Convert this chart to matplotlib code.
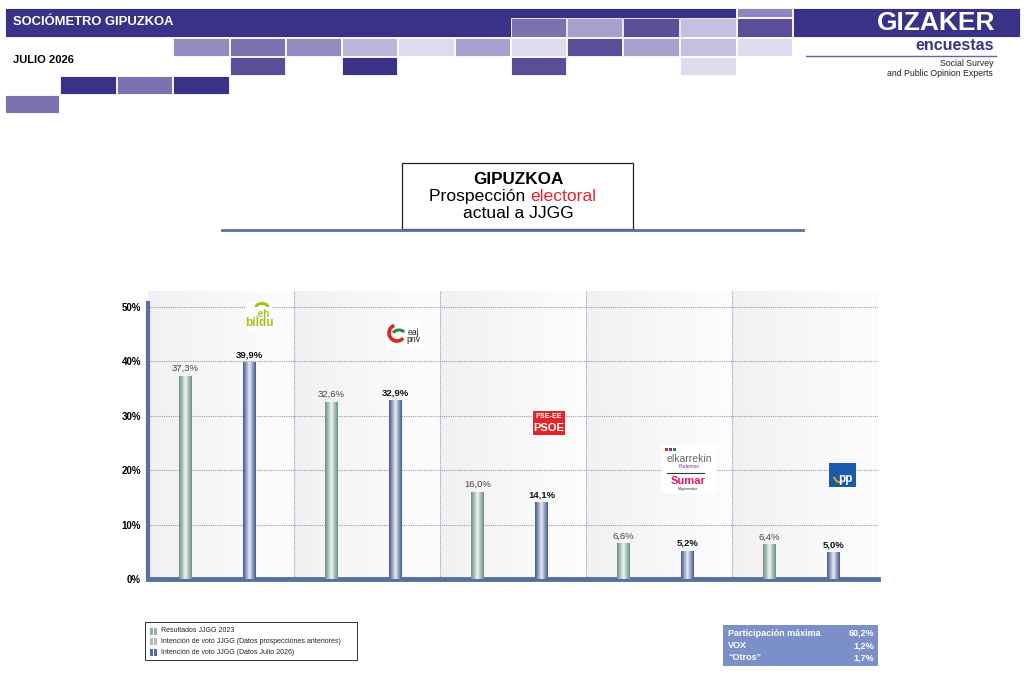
import numpy as np
import matplotlib.pyplot as plt
from matplotlib.patches import Rectangle, Arc
from matplotlib.colors import to_rgb

plt.rcParams['font.family'] = ['Liberation Sans', 'DejaVu Sans']

# data
parties = ['EH Bildu', 'EAJ-PNV', 'PSE-EE', 'Elkarrekin-Sumar', 'PP']
res_2023 = [37.3, 32.6, 16.0, 6.6, 6.4]
int_2026 = [39.9, 32.9, 14.1, 5.2, 5.0]
yticks = [0, 10, 20, 30, 40, 50]
legend_labels = ['Resultados JJGG 2023',
                 'Intención de voto JJGG (Datos prospecciones anteriores)',
                 'Intención de voto JJGG (Datos Julio 2026)']
info_labels = ['Participación máxima', 'VOX', '\u201cOtros\u201d']
info_values = ['60,2%', '1,2%', '1,7%']

W, H = 1024, 676
fig = plt.figure(figsize=(W/100, H/100), dpi=100)

def pixel_axes():
    a = fig.add_axes([0, 0, 1, 1])
    a.set_xlim(0, W)
    a.set_ylim(H, 0)
    a.axis('off')
    return a

# decoration layer in pixel coordinates
deco = pixel_axes()

c1, c2, c3, c4, c5, c6 = '#3a3286', '#5b4d98', '#7d72b0', '#938ac0', '#bcb6da', '#dedbee'
c7 = '#a79fcc'
def tile(x0, x1, y0, y1, c):
    deco.add_patch(Rectangle((x0, y0), x1-x0, y1-y0, facecolor=c, edgecolor='white', lw=0.6))

tile(5, 736, 8, 37, c1)
tile(793, 1020, 8, 37, c1)
tiles = [
    (737, 792, 8, 17, '#8f84bf'),
    (511, 566, 18, 37, c3), (567, 622, 18, 37, c7), (623, 679, 18, 37, c2),
    (680, 736, 18, 37, '#c5bfe0'), (737, 792, 18, 37, c2),
    (173, 229, 38, 56, c4), (230, 285, 38, 56, c3), (286, 341, 38, 56, c4),
    (342, 397, 38, 56, c5), (398, 454, 38, 56, c6), (455, 510, 38, 56, c7),
    (511, 566, 38, 56, c6), (567, 622, 38, 56, c2), (623, 679, 38, 56, c7),
    (680, 736, 38, 56, '#c5bfe0'), (737, 792, 38, 56, c6),
    (230, 285, 57, 75, c2), (342, 397, 57, 75, c1), (511, 566, 57, 75, c2),
    (680, 736, 57, 75, c6),
    (60, 116, 76, 94, c1), (117, 172, 76, 94, c3), (173, 229, 76, 94, c1),
    (5, 59, 95, 113, c3),
]
for t in tiles:
    tile(*t)

deco.text(13, 22, 'SOCIÓMETRO GIPUZKOA', color='white', fontsize=9.4, fontweight='bold', va='center')
deco.text(13, 60, 'JULIO 2026', color='black', fontsize=8, fontweight='bold', va='center')
deco.text(995, 23, 'GIZAKER', color='white', fontsize=19, fontweight='bold', va='center', ha='right')
deco.text(994, 46, 'encuestas', color=c1, fontsize=11.5, fontweight='bold', va='center', ha='right')
deco.plot([806, 996], [56, 56], color='#6a5fb0', lw=1)
deco.text(993, 63, 'Social Survey', fontsize=6.3, va='center', ha='right', color='#222')
deco.text(993, 73, 'and Public Opinion Experts', fontsize=6.3, va='center', ha='right', color='#222')

# title box
deco.add_patch(Rectangle((402, 163), 231, 66, facecolor='white', edgecolor='#222', lw=0.9))
deco.text(518, 180, 'GIPUZKOA', fontsize=12.3, fontweight='bold', ha='center', va='center')
t1 = deco.text(429, 201, 'Prospección ', fontsize=12.6, ha='left', va='baseline')
fig.canvas.draw()
xr = deco.transData.inverted().transform(t1.get_window_extent().p1)[0]
deco.text(xr, 201, 'electoral', fontsize=12.6, color='#e8202a', ha='left', va='baseline')
deco.text(518, 214, 'actual a JJGG', fontsize=12.6, ha='center', va='center')
deco.plot([222, 803], [230, 230], color='#5a6fa0', lw=2)

# chart
ax = fig.add_axes([148/W, 1-579/H, (878-148)/W, (579-291)/H])
n = len(parties)
ytop = (579-291)/5.44
ax.set_xlim(0, n)
ax.set_ylim(0, ytop)

bg = np.linspace(0, 1, 64)[None, :]
for i in range(n):
    ax.imshow(bg, extent=[i, i+1, 0, ytop], aspect='auto', cmap='Greys_r',
              vmin=-9, vmax=1.2, zorder=0, interpolation='bilinear')
for y in yticks[1:]:
    ax.axhline(y, color='#8a9cc8', lw=0.8, ls=(0, (1, 1)), zorder=1)
for i in range(1, n+1):
    ax.axvline(i, color='#8a9cc8', lw=0.8, ls=(0, (1, 1)), zorder=1)

x = np.arange(n)
bw = 0.085
b1 = ax.bar(x + 0.255, res_2023, bw, color='#8fb0a8', zorder=2)
b2 = ax.bar(x + 0.695, int_2026, bw, color='#56689c', zorder=2)

prof = np.abs(np.linspace(-1, 1, 64)) ** 0.9
def shade(bars, edge, centre):
    e = np.array(to_rgb(edge))
    c = np.array(to_rgb(centre))
    img = (c[None, :] * (1 - prof[:, None]) + e[None, :] * prof[:, None])[None, :, :]
    for p in bars:
        im = ax.imshow(img, extent=[p.get_x(), p.get_x() + p.get_width(), 0, p.get_height()],
                       aspect='auto', zorder=3, interpolation='bilinear')
        im.set_clip_path(p)
shade(b1, '#6a9088', '#f4f8f6')
shade(b2, '#47598f', '#eef0f7')
ax.set_xlim(0, n)
ax.set_ylim(0, ytop)

for p, v in zip(b1, res_2023):
    ax.annotate(f'{v:.1f}%'.replace('.', ','), (p.get_x() + p.get_width()/2, v),
                xytext=(0, 2), textcoords='offset points', ha='center', va='bottom',
                fontsize=6.8, color='#444')
for p, v in zip(b2, int_2026):
    ax.annotate(f'{v:.1f}%'.replace('.', ','), (p.get_x() + p.get_width()/2, v),
                xytext=(0, 2), textcoords='offset points', ha='center', va='bottom',
                fontsize=6.8, color='#111', fontweight='bold')

ax.set_xticks([])
ax.set_yticks(yticks)
ax.set_yticklabels([f'{v}%' for v in yticks], fontsize=7, fontweight='bold')
ax.tick_params(axis='y', length=0, pad=5)
for s in ['top', 'right']:
    ax.spines[s].set_visible(False)
ax.spines['left'].set_color('#5a6fa0')
ax.spines['left'].set_linewidth(3)
ax.spines['left'].set_bounds(0, 50.8)
ax.spines['bottom'].set_color('#5a6fa0')
ax.spines['bottom'].set_linewidth(3.5)

# party logos (approximations), drawn on top of the chart
top = pixel_axes()
top.add_patch(Rectangle((246, 302), 26, 27, facecolor='white', edgecolor='none'))
top.add_patch(Arc((262, 307), 12, 7, theta1=180, theta2=360, color='#9fc31c', lw=2.2))
top.text(262, 314, '.eh', fontsize=7, color='#9fc31c', fontweight='bold', ha='center', va='center')
top.text(259, 323, 'bildu', fontsize=8.5, color='#9fc31c', fontweight='bold', ha='center', va='center')
top.add_patch(Rectangle((386, 321), 35, 27, facecolor='white', edgecolor='none'))
top.add_patch(Arc((397, 333), 16, 16, theta1=40, theta2=250, color='#e2231a', lw=2.6))
top.add_patch(Arc((399, 335), 13, 10, theta1=200, theta2=330, color='#2b8a3e', lw=2.2))
top.text(413, 336, 'eaj\npnv', fontsize=6.2, color='#222', ha='center', va='center', linespacing=0.7)
top.add_patch(Rectangle((533, 411), 32, 24, facecolor='#e3242b', edgecolor='none'))
top.text(549, 417, 'PSE-EE', fontsize=5.2, color='white', fontweight='bold', ha='center', va='center')
top.text(549, 428, 'PSOE', fontsize=8, color='white', fontweight='bold', ha='center', va='center')
top.add_patch(Rectangle((661, 445), 56, 48, facecolor='white', edgecolor='none'))
for k, cc in enumerate(['#e2231a', '#7b2fa0', '#2b8a3e']):
    top.add_patch(Rectangle((665 + 4*k, 448), 2.5, 2.5, facecolor=cc, edgecolor='none'))
top.text(689, 459, 'elkarrekin', fontsize=7.5, color='#666', ha='center', va='center')
top.text(689, 466, 'Podemos', fontsize=3.5, color='#7b2fa0', ha='center', va='center')
top.plot([667, 704], [473, 473], color='#333', lw=0.8)
top.text(688, 481, 'Sumar', fontsize=8, color='#e5175e', fontweight='bold', ha='center', va='center')
top.text(688, 489, 'Mugimendua', fontsize=2.5, color='#333', ha='center', va='center')
top.add_patch(Rectangle((829, 463), 27, 24, facecolor='#1a5aa8', edgecolor='none'))
top.add_patch(Arc((843, 476), 18, 14, theta1=95, theta2=175, color='#f5b800', lw=1.2))
top.text(845, 479, 'pp', fontsize=8.5, color='white', fontweight='bold', ha='center', va='center')

# legend box
top.add_patch(Rectangle((145, 622), 212, 38, facecolor='white', edgecolor='#333', lw=0.7))
sw = ['#8fb0a8', '#b8b8b8', '#56689c']
for k, (lab, c) in enumerate(zip(legend_labels, sw)):
    yy = 631 + k * 10.5
    for dx in (0, 4):
        top.add_patch(Rectangle((150 + dx, yy - 3.5), 2.5, 7, facecolor=c, edgecolor='none'))
    top.text(161, yy, lab, fontsize=5, color='#222', va='center')

# info box
top.add_patch(Rectangle((723, 625), 155, 41, facecolor='#7b8fc9', edgecolor='none'))
for k, (lab, v) in enumerate(zip(info_labels, info_values)):
    yy = 633 + k * 12.5
    top.text(728, yy, lab, fontsize=6.5, color='white', fontweight='bold', va='center')
    top.text(874, yy, v, fontsize=6.5, color='white', fontweight='bold', va='center', ha='right')

fig.savefig('out.png', dpi=100)
